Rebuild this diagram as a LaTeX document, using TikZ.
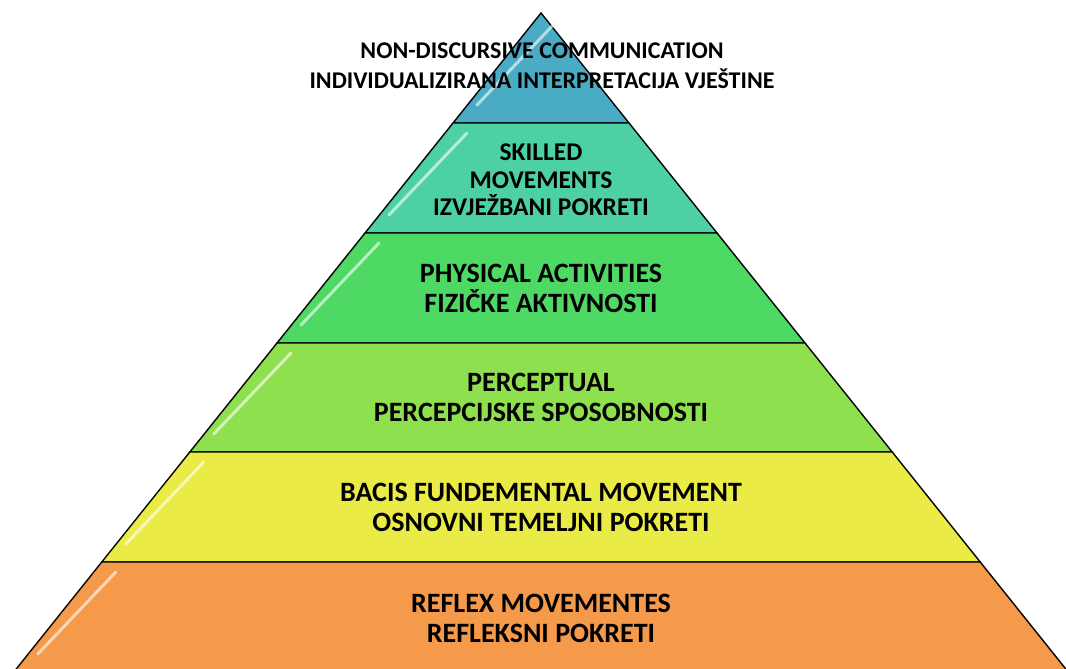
\documentclass[tikz,border=0pt]{standalone}
\usepackage{fontspec}
\setmainfont{Carlito}
\usetikzlibrary{positioning}
\definecolor{band-blue}{HTML}{4AABC5}
\definecolor{band-teal}{HTML}{4DD0A6}
\definecolor{band-green}{HTML}{4DD963}
\definecolor{band-lime}{HTML}{8FE04E}
\definecolor{band-yellow}{HTML}{EBEB47}
\definecolor{band-orange}{HTML}{F59A4A}
\tikzset{
    band-box/.style = {draw=black, line width=1.4pt, line join=miter},
    band-shine/.style = {white, line width=3pt, opacity=0.6, line cap=round},
    band-text/.style = {align=center, text=black, font=\bfseries\fontsize{28}{30}\selectfont},
    apex-text-style/.style = {band-text, font=\bfseries\fontsize{24}{30}\selectfont},
    skilled-text-style/.style = {band-text, font=\bfseries\fontsize{25.5}{27.5}\selectfont},
}

\begin{document}
\begin{tikzpicture}[x=1pt, y=-1pt]
\useasboundingbox (0,0) rectangle (1066,669);
% the six layers, top edge y and bottom edge y
\foreach \ytop/\ybot/\col in {13/123/band-blue, 123/233/band-teal, 233/343/band-green, 343/452/band-lime, 452/562/band-yellow, 562/672/band-orange}{
    \draw[band-box, fill=\col] ({541-0.8*(\ytop-13)},\ytop) -- ({541+0.8*(\ytop-13)},\ytop) -- ({541+0.8*(\ybot-13)},\ybot) -- ({541-0.8*(\ybot-13)},\ybot) -- cycle;
    \draw[band-shine] ({541-0.8*(\ybot-13)+24},\ybot-18) -- ({541-0.8*(\ytop-13)+14},\ytop+10);
}

\node[apex-text-style] (apex-text) at (542,66) {NON-DISCURSIVE COMMUNICATION\\INDIVIDUALIZIRANA INTERPRETACIJA VJEŠTINE};
\node[skilled-text-style] (skilled-text) at (541,180) {SKILLED\\MOVEMENTS\\IZVJEŽBANI POKRETI};
\node[band-text] (physical-text) at (541,288) {PHYSICAL ACTIVITIES\\FIZIČKE AKTIVNOSTI};
\node[band-text] (perceptual-text) at (541,397) {PERCEPTUAL\\PERCEPCIJSKE SPOSOBNOSTI};
\node[band-text] (basic-text) at (541,507) {BACIS FUNDEMENTAL MOVEMENT\\OSNOVNI TEMELJNI POKRETI};
\node[band-text] (reflex-text) at (541,618) {REFLEX MOVEMENTES\\REFLEKSNI POKRETI};
\end{tikzpicture}
\end{document}
